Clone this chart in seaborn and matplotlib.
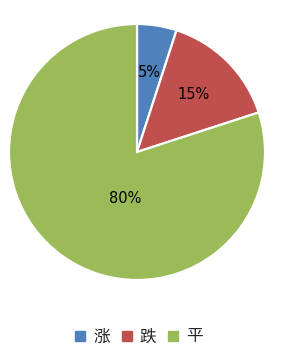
import matplotlib
matplotlib.use("Agg")
import matplotlib.pyplot as plt
import seaborn as sns
from matplotlib.lines import Line2D

categories = ["涨", "跌", "平"]
values = [5, 15, 80]
colors = ["#4F81BD", "#C0504D", "#9BBB59"]

sns.set_style("white")
plt.rcParams['font.family'] = ['Noto Sans CJK SC', 'DejaVu Sans']

fig = plt.figure(figsize=(2.82, 3.6), dpi=100)
ax = fig.add_axes([9/282, 80/360, 256/282, 256/360])
palette = sns.color_palette(colors)
wedges, texts, autotexts = ax.pie(
    values, colors=palette, startangle=90, counterclock=False,
    autopct=lambda p: f"{p:.0f}%", pctdistance=0.63,
    wedgeprops=dict(edgecolor="white", linewidth=1.6),
    textprops=dict(fontsize=10.5, color="black", family=['DejaVu Sans']),
    radius=1.0)
autotexts[2].set_position((-0.09, -0.36))
ax.set_xlim(-1, 1)
ax.set_ylim(-1, 1)
ax.set_aspect("equal")
ax.axis("off")

handles = [Line2D([0], [0], marker="s", linestyle="", markersize=7,
                  markerfacecolor=c, markeredgecolor=c) for c in palette]
fig.legend(handles, categories, loc="center", bbox_to_anchor=(0.49, 1 - 337/360),
           ncol=3, frameon=False, fontsize=12, handlelength=0.8,
           handletextpad=0.4, columnspacing=0.6)

fig.savefig("out.png", dpi=100)
